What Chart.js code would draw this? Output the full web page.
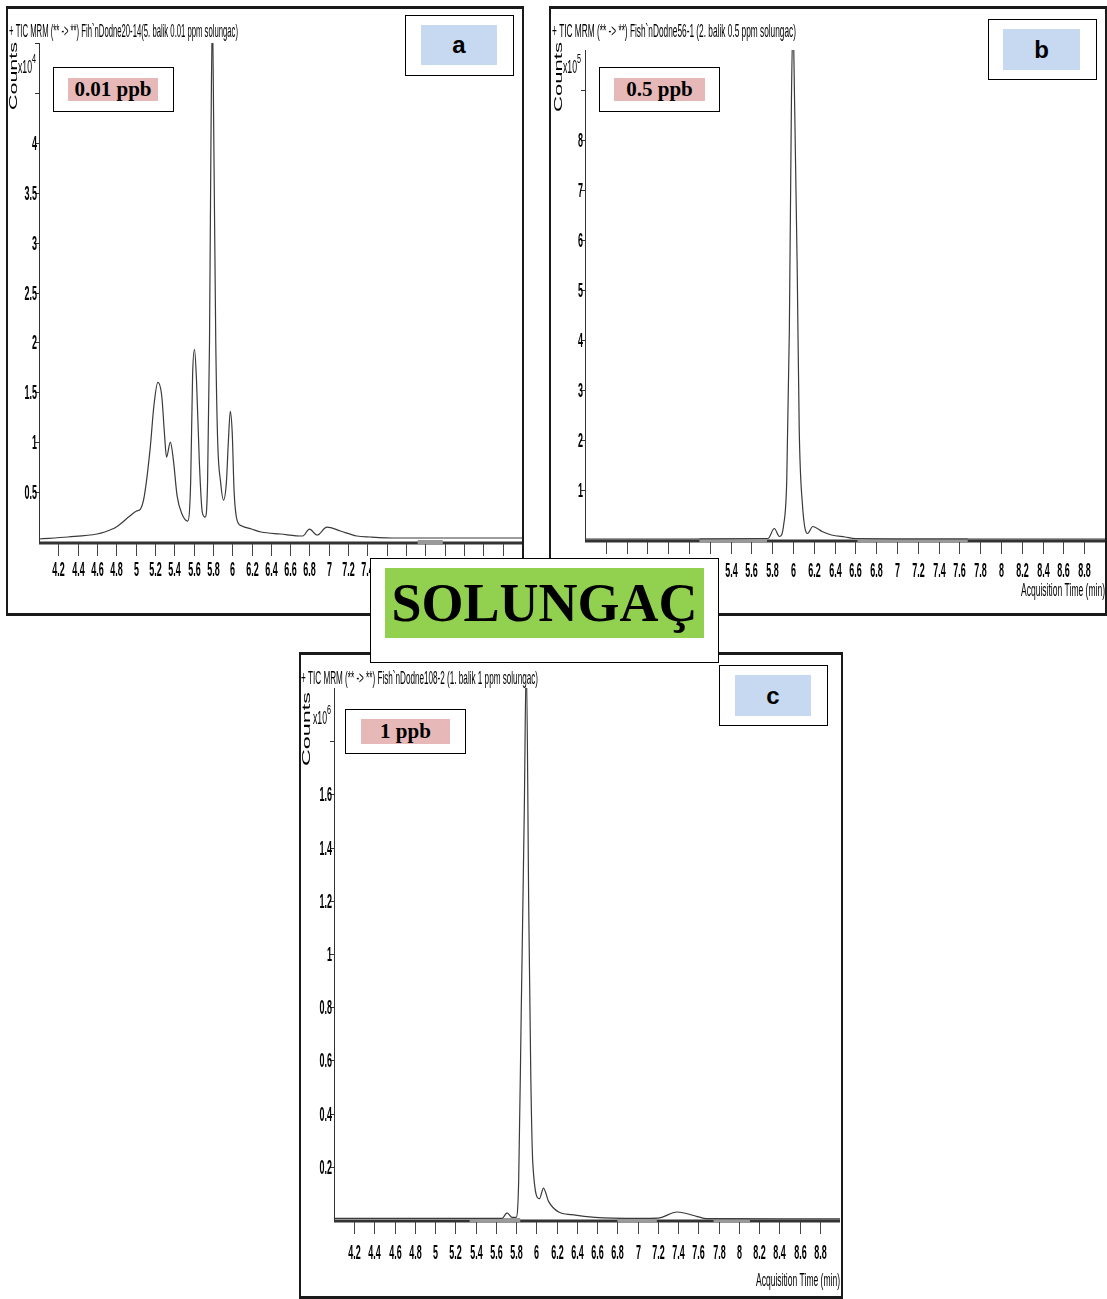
<!DOCTYPE html>
<html>
<head>
<meta charset="utf-8">
<script src="https://cdn.jsdelivr.net/npm/chart.js@4.4.1/dist/chart.umd.min.js"></script>
<style>
  body { margin: 0; background: #fff; }
  #page { position: relative; width: 1107px; height: 1299px; overflow: hidden; background: #fff; }
  .frame { position: absolute; box-sizing: border-box; border: 2px solid #1a1a1a; border-top-width: 3px; border-bottom-width: 3px; }
  canvas { position: absolute; }
  .box { position: absolute; box-sizing: border-box; border: 1px solid #000; background: #fff; }
  .fill { position: absolute; display: flex; align-items: center; justify-content: center; color: #000; }
  .ppb { background: #e6b8b7; font: bold 21px "Liberation Serif", "Times New Roman", serif; }
  .tag { background: #c6d9f1; font: bold 24px "Liberation Sans", Arial, sans-serif; }
  .big { background: #92d050; font: bold 54px "Liberation Serif", "Times New Roman", serif; }
</style>
</head>
<body>
<div id="page">
  <div class="frame" style="left:6px;top:6px;width:518px;height:610px"></div>
  <div class="frame" style="left:549px;top:6px;width:558px;height:610px"></div>
  <div class="frame" style="left:299px;top:652px;width:544px;height:647px"></div>

  <canvas id="chartA" style="left:0;top:0" width="540" height="620"></canvas>
  <canvas id="chartB" style="left:545px;top:0" width="562" height="620"></canvas>
  <canvas id="chartC" style="left:295px;top:645px" width="560" height="654"></canvas>

  <!-- etiquetas de concentración -->
  <div class="box" style="left:53px;top:67px;width:121px;height:45px"></div>
  <div class="fill ppb" style="left:68px;top:78px;width:90px;height:23px">0.01 ppb</div>
  <div class="box" style="left:599px;top:67px;width:121px;height:45px"></div>
  <div class="fill ppb" style="left:614px;top:78px;width:91px;height:23px">0.5 ppb</div>
  <div class="box" style="left:345px;top:709px;width:121px;height:45px"></div>
  <div class="fill ppb" style="left:361px;top:719px;width:89px;height:25px">1 ppb</div>

  <!-- letras de panel -->
  <div class="box" style="left:405px;top:15px;width:109px;height:61px"></div>
  <div class="fill tag" style="left:421px;top:25px;width:76px;height:40px">a</div>
  <div class="box" style="left:988px;top:19px;width:109px;height:61px"></div>
  <div class="fill tag" style="left:1003px;top:29px;width:77px;height:41px">b</div>
  <div class="box" style="left:719px;top:665px;width:109px;height:61px"></div>
  <div class="fill tag" style="left:735px;top:675px;width:76px;height:41px">c</div>

  <div class="box" style="left:370px;top:558px;width:349px;height:105px"></div>
  <div class="fill big" style="left:385px;top:568px;width:319px;height:70px">SOLUNGAÇ</div>
</div>

<script>
const xTickValues = [4.2, 4.4, 4.6, 4.8, 5, 5.2, 5.4, 5.6, 5.8, 6, 6.2, 6.4, 6.6, 6.8, 7, 7.2, 7.4, 7.6, 7.8, 8, 8.2, 8.4, 8.6, 8.8];
const xTickLabels = ['4.2', '4.4', '4.6', '4.8', '5', '5.2', '5.4', '5.6', '5.8', '6', '6.2', '6.4', '6.6', '6.8', '7', '7.2', '7.4', '7.6', '7.8', '8', '8.2', '8.4', '8.6', '8.8'];

// panel a: 0.01 ppb, x10^4
const aTime = [4.0, 4.3, 4.6, 4.68, 4.8, 4.94, 5.01, 5.05, 5.09, 5.15, 5.19, 5.23, 5.27, 5.30, 5.32, 5.36, 5.39, 5.43, 5.48, 5.54, 5.57, 5.59, 5.61, 5.63, 5.66, 5.69, 5.72, 5.745, 5.765, 5.78, 5.795, 5.81, 5.83, 5.85, 5.88, 5.91, 5.94, 5.96, 5.98, 6.0, 6.02, 6.05, 6.1, 6.2, 6.3, 6.5, 6.73, 6.8, 6.88, 6.98, 7.12, 7.29, 7.43, 7.7, 8.0, 8.5, 9.0];
const aCounts = [0.03, 0.05, 0.08, 0.10, 0.15, 0.26, 0.31, 0.33, 0.46, 0.93, 1.37, 1.60, 1.47, 1.07, 0.85, 1.00, 0.83, 0.46, 0.28, 0.21, 0.60, 1.67, 1.93, 1.63, 0.80, 0.30, 0.25, 0.6, 2.0, 4.0, 5.3, 4.0, 2.0, 1.0, 0.6, 0.42, 0.6, 1.0, 1.31, 1.1, 0.5, 0.22, 0.16, 0.13, 0.1, 0.08, 0.06, 0.13, 0.07, 0.15, 0.11, 0.06, 0.05, 0.04, 0.04, 0.04, 0.04];
const aMarks = [[7.92, 8.18]];
const aYTicks = [0.5, 1, 1.5, 2, 2.5, 3, 3.5, 4, 4.5, 5];
const aYLabels = ['0.5', '1', '1.5', '2', '2.5', '3', '3.5', '4', '', ''];

// panel b: 0.5 ppb, x10^5
const bTime = [4.0, 5.0, 5.7, 5.76, 5.82, 5.87, 5.91, 5.94, 5.965, 5.985, 6.0, 6.015, 6.04, 6.06, 6.09, 6.14, 6.19, 6.28, 6.37, 6.5, 6.6, 7.5, 9.0];
const bCounts = [0.02, 0.02, 0.03, 0.03, 0.23, 0.07, 0.3, 1.2, 4.2, 8.8, 10.4, 8.8, 5.5, 2.2, 0.73, 0.13, 0.27, 0.17, 0.1, 0.06, 0.03, 0.02, 0.02];
const bMarks = [[5.1, 5.75], [6.62, 7.68]];
const bYTicks = [1, 2, 3, 4, 5, 6, 7, 8, 9];
const bYLabels = ['1', '2', '3', '4', '5', '6', '7', '8', ''];

// panel c: 1 ppb, x10^6
const cTime = [4.0, 5.5, 5.66, 5.71, 5.76, 5.80, 5.825, 5.85, 5.88, 5.90, 5.925, 5.945, 5.965, 6.03, 6.07, 6.12, 6.22, 6.35, 6.58, 7.0, 7.2, 7.39, 7.59, 7.68, 8.5, 9.0];
const cCounts = [0.006, 0.006, 0.006, 0.027, 0.01, 0.01, 0.15, 0.78, 1.53, 2.1, 1.15, 0.53, 0.21, 0.08, 0.12, 0.07, 0.03, 0.02, 0.01, 0.006, 0.007, 0.03, 0.013, 0.005, 0.004, 0.004];
const cMarks = [[5.34, 5.84], [6.8, 7.19], [7.75, 8.11]];
const cYTicks = [0.2, 0.4, 0.6, 0.8, 1, 1.2, 1.4, 1.6, 1.8];
const cYLabels = ['0.2', '0.4', '0.6', '0.8', '1', '1.2', '1.4', '1.6', ''];

const SANS = '"Liberation Sans", Arial, sans-serif';

// texto angosto (estilo Agilent MassHunter)
function narrowText(ctx, text, x, y, font, sx, align) {
    ctx.save();
    ctx.font = font;
    ctx.translate(x, y);
    ctx.scale(sx, 1);
    ctx.textAlign = align || 'left';
    ctx.fillText(text, 0, 0);
    ctx.restore();
}
function fitScale(ctx, text, font, width) {
    ctx.save();
    ctx.font = font;
    const w = ctx.measureText(text).width;
    ctx.restore();
    return width / w;
}

const chromPlugin = {
    id: 'chrom',
    beforeDatasetsDraw(chart, args, o) {
        const ctx = chart.ctx, a = chart.chartArea;
        const xs = chart.scales.x, ys = chart.scales.y;
        ctx.save();
        ctx.fillStyle = '#000';
        ctx.textBaseline = 'middle';

        // eje Y
        ctx.strokeStyle = '#333';
        ctx.lineWidth = 1;
        ctx.beginPath();
        ctx.moveTo(a.left + 0.5, a.top);
        ctx.lineTo(a.left + 0.5, a.bottom + 2);
        ctx.stroke();

        const tickFont = 'bold 21px ' + SANS;
        const sx = fitScale(ctx, '4.2', tickFont, 12.5);
        o.yTicks.forEach((v, i) => {
            const py = Math.round(ys.getPixelForValue(v)) + 0.5;
            ctx.beginPath();
            ctx.moveTo(a.left - 4, py);
            ctx.lineTo(a.left, py);
            ctx.stroke();
            if (o.yLabels[i]) narrowText(ctx, o.yLabels[i], a.left - 2, py + 1, tickFont, sx, 'right');
        });

        // eje X grueso
        ctx.strokeStyle = '#333';
        ctx.lineWidth = 3;
        ctx.beginPath();
        ctx.moveTo(a.left, a.bottom + 1);
        ctx.lineTo(a.right, a.bottom + 1);
        ctx.stroke();

        ctx.strokeStyle = '#444';
        ctx.lineWidth = 1;
        xTickValues.forEach((v, i) => {
            const px = Math.round(xs.getPixelForValue(v)) + 0.5;
            ctx.beginPath();
            ctx.moveTo(px, a.bottom + 2);
            ctx.lineTo(px, a.bottom + 14);
            ctx.stroke();
            narrowText(ctx, xTickLabels[i], px, a.bottom + o.xLabelOffset, tickFont, sx, 'center');
        });

        // título del eje X
        const tFont = '19px ' + SANS;
        const title = 'Acquisition Time (min)';
        narrowText(ctx, title, a.right, o.titleY, tFont, fitScale(ctx, title, tFont, 84), 'right');

        // encabezado del cromatograma
        const hFont = '19px ' + SANS;
        narrowText(ctx, o.header, o.headerX, o.headerY, hFont, fitScale(ctx, o.header, hFont, o.headerW), 'left');

        // x10^n
        const eFont = '18px ' + SANS;
        const es = fitScale(ctx, 'x10', eFont, 14);
        narrowText(ctx, 'x10', 18, o.expY, eFont, es, 'left');
        narrowText(ctx, o.exp, 32, o.expY - 8, '12px ' + SANS, 0.6, 'left');

        // "Counts" vertical
        ctx.save();
        ctx.translate(o.countsX, o.countsY);
        ctx.rotate(-Math.PI / 2);
        const cFont = '11px ' + SANS;
        narrowText(ctx, 'Counts', 0, 0, cFont, fitScale(ctx, 'Counts', cFont, o.countsLen), 'center');
        ctx.restore();

        ctx.restore();
    }
};
Chart.register(chromPlugin);

function makePanel(id, time, counts, marks, yMax, pad, opts) {
    const curve = time.map((t, i) => ({ x: t, y: counts[i] }));
    const markPts = [];
    marks.forEach(r => {
        markPts.push({ x: r[0], y: 0 }, { x: r[1], y: 0 }, { x: r[1], y: null });
    });
    new Chart(document.getElementById(id), {
        type: 'line',
        data: {
            datasets: [
                {
                    data: curve,
                    borderColor: '#3a3a3a',
                    borderWidth: 1.2,
                    pointRadius: 0,
                    cubicInterpolationMode: 'monotone',
                    fill: false
                },
                {
                    data: markPts,
                    borderColor: '#9a9a9a',
                    borderWidth: 4,
                    pointRadius: 0,
                    spanGaps: false,
                    clip: false
                }
            ]
        },
        options: {
            responsive: false,
            animation: false,
            events: [],
            layout: { padding: pad },
            plugins: { legend: { display: false }, tooltip: { enabled: false }, chrom: opts },
            scales: {
                x: {
                    type: 'linear', min: 4.0, max: 9.0,
                    grid: { display: false }, border: { display: false }, ticks: { display: false },
                    afterFit: s => { s.height = 0; }
                },
                y: {
                    type: 'linear', min: 0, max: yMax,
                    grid: { display: false }, border: { display: false }, ticks: { display: false },
                    afterFit: s => { s.width = 0; }
                }
            }
        }
    });
}

makePanel('chartA', aTime, aCounts, aMarks, 5.0,
    { left: 39, right: 18, top: 43, bottom: 78 },
    { yTicks: aYTicks, yLabels: aYLabels, xLabelOffset: 28, titleY: 591,
      header: '+ TIC MRM (** -> **) Fih`nDodne20-14(5. balik 0.01 ppm solungac)', headerX: 9, headerY: 32, headerW: 229,
      exp: '4', expY: 68, countsX: 14, countsY: 76, countsLen: 68 });

makePanel('chartB', bTime, bCounts, bMarks, 9.8,
    { left: 40, right: 2, top: 50, bottom: 80 },
    { yTicks: bYTicks, yLabels: bYLabels, xLabelOffset: 31, titleY: 591,
      header: '+ TIC MRM (** -> **) Fish`nDodne56-1 (2. balik 0.5 ppm solungac)', headerX: 7, headerY: 32, headerW: 244,
      exp: '5', expY: 68, countsX: 14, countsY: 77, countsLen: 70 });

makePanel('chartC', cTime, cCounts, cMarks, 2.0,
    { left: 39, right: 15, top: 43, bottom: 79 },
    { yTicks: cYTicks, yLabels: cYLabels, xLabelOffset: 33, titleY: 636,
      header: '+ TIC MRM (** -> **) Fish`nDodne108-2 (1. balik 1 ppm solungac)', headerX: 6, headerY: 34, headerW: 237,
      exp: '6', expY: 74, countsX: 12, countsY: 84, countsLen: 74 });
</script>
</body>
</html>
